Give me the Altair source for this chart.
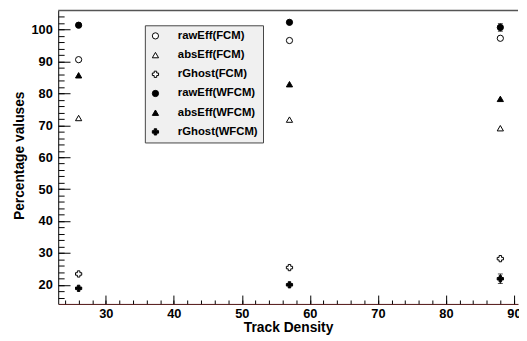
import altair as alt
import pandas as pd

# ---- data ----
density = [26, 57, 88]
series_names = ["rawEff(FCM)", "absEff(FCM)", "rGhost(FCM)",
                "rawEff(WFCM)", "absEff(WFCM)", "rGhost(WFCM)"]
raw_fcm = [90.6, 96.6, 97.3]
abs_fcm = [72.3, 71.8, 69.1]
ghost_fcm = [23.4, 25.4, 28.2]
raw_wfcm = [101.4, 102.3, 100.7]
abs_wfcm = [85.7, 82.9, 78.3]
ghost_wfcm = [18.9, 20.0, 21.9]
err_raw_fcm = [0.0, 0.0, 0.0]
err_abs_fcm = [0.0, 0.0, 0.0]
err_ghost_fcm = [0.0, 0.0, 0.0]
err_raw_wfcm = [0.0, 0.0, 1.2]
err_abs_wfcm = [0.0, 0.0, 0.0]
err_ghost_wfcm = [0.0, 0.0, 1.5]

y_minor = list(range(16, 106, 2))
y_major = [20, 30, 40, 50, 60, 70, 80, 90, 100]
x_minor = list(range(24, 91, 2))
x_major = [30, 40, 50, 60, 70, 80, 90]

shapes = ["circle", "triangle-up", "cross", "circle", "triangle-up", "cross"]
fills = ["white", "white", "white", "black", "black", "black"]
strokes = ["black"] * 6

values = [raw_fcm, abs_fcm, ghost_fcm, raw_wfcm, abs_wfcm, ghost_wfcm]
errors = [err_raw_fcm, err_abs_fcm, err_ghost_fcm, err_raw_wfcm, err_abs_wfcm, err_ghost_wfcm]
rows = []
for name, vals, errs in zip(series_names, values, errors):
    for d, v, e in zip(density, vals, errs):
        rows.append({"density": d, "value": v, "err": e, "lo": v - e, "hi": v + e, "series": name})
df = pd.DataFrame(rows)

W, H = 467, 298
FONT = "Liberation Sans"

xscale = alt.Scale(domain=[23, 90.6], nice=False, zero=False)
yscale = alt.Scale(domain=[14.0, 106.0], nice=False, zero=False)

base = alt.Chart(df)
errbase = base.transform_filter("datum.err > 0")

# error bars (drawn below markers)
err_rule = errbase.mark_rule(color="black", strokeWidth=1).encode(
    x=alt.X("density:Q", scale=xscale, axis=None),
    y=alt.Y("lo:Q", scale=yscale, axis=None),
    y2="hi:Q",
)
cap_lo = errbase.mark_tick(color="black", orient="horizontal", size=5, thickness=1).encode(
    x=alt.X("density:Q", scale=xscale, axis=None),
    y=alt.Y("lo:Q", scale=yscale, axis=None),
)
cap_hi = errbase.mark_tick(color="black", orient="horizontal", size=5, thickness=1).encode(
    x=alt.X("density:Q", scale=xscale, axis=None),
    y=alt.Y("hi:Q", scale=yscale, axis=None),
)

legend = alt.Legend(title=None, orient="none", legendX=88, legendY=15,
                    fillColor="#f0f0f0", strokeColor="#444444", padding=5,
                    labelFont=FONT, labelFontWeight="bold", labelFontSize=11.5,
                    labelColor="black", labelOffset=17, rowPadding=6.5,
                    symbolSize=40, symbolStrokeWidth=1, symbolStrokeColor="black",
                    cornerRadius=0)

points = base.mark_point(strokeWidth=1, opacity=1, size=40).encode(
    x=alt.X("density:Q", scale=xscale, title="Track Density",
            axis=alt.Axis(orient="bottom", values=x_major, ticks=False, grid=False,
                          labelFont=FONT, labelFontWeight="bold", labelFontSize=13,
                          labelColor="black", labelPadding=4, labelFlush=False,
                          domainColor="#4d1010", domainWidth=1,
                          titleFont=FONT, titleFontWeight="bold", titleFontSize=14,
                          titleColor="black", titleBaseline="alphabetic", titleY=28)),
    y=alt.Y("value:Q", scale=yscale, title="Percentage valuses",
            axis=alt.Axis(orient="left", values=y_major, ticks=False, grid=False,
                          labelFont=FONT, labelFontWeight="bold", labelFontSize=13,
                          labelColor="black", labelPadding=6,
                          domainColor="black", domainWidth=1,
                          titleFont=FONT, titleFontWeight="bold", titleFontSize=14,
                          titleColor="black", titleAngle=-90, titleBaseline="middle",
                          titleAlign="center", titleX=-39, titleY=147)),
    shape=alt.Shape("series:N", scale=alt.Scale(domain=series_names, range=shapes), legend=legend),
    fill=alt.Fill("series:N", scale=alt.Scale(domain=series_names, range=fills), legend=legend),
    stroke=alt.Stroke("series:N", scale=alt.Scale(domain=series_names, range=strokes), legend=legend),
)

def tick_layer(yvals, xvals, ylen, xlen):
    return base.mark_point(opacity=0).encode(
        x=alt.X("density:Q", scale=xscale,
                axis=alt.Axis(orient="top", offset=-H, values=xvals, labels=False,
                              domain=False, grid=False, ticks=True, tickSize=xlen,
                              tickColor="black", tickWidth=1, title=None)),
        y=alt.Y("value:Q", scale=yscale,
                axis=alt.Axis(orient="right", offset=-W, values=yvals, labels=False,
                              domain=False, grid=False, ticks=True, tickSize=ylen,
                              tickColor="black", tickWidth=1, title=None)),
    )

minor = tick_layer(y_minor, x_minor, 6, 4)
major = tick_layer(y_major, x_major, 12, 9)

top_line = alt.Chart(pd.DataFrame({"v": [0]})).mark_rule(color="#555555", strokeWidth=1.5).encode(
    x=alt.value(0), x2=alt.value(W), y=alt.value(0)
)

chart = alt.layer(top_line, minor, major, err_rule, cap_lo, cap_hi, points).resolve_axis(
    x="independent", y="independent"
).properties(
    width=W, height=H,
    autosize=alt.AutoSizeParams(type="none"),
    padding={"left": 51, "top": 0, "right": 1, "bottom": 31},
    background="white",
).configure_view(stroke=None)

chart.save("out.html", embed_options={"renderer": "svg", "actions": False})
